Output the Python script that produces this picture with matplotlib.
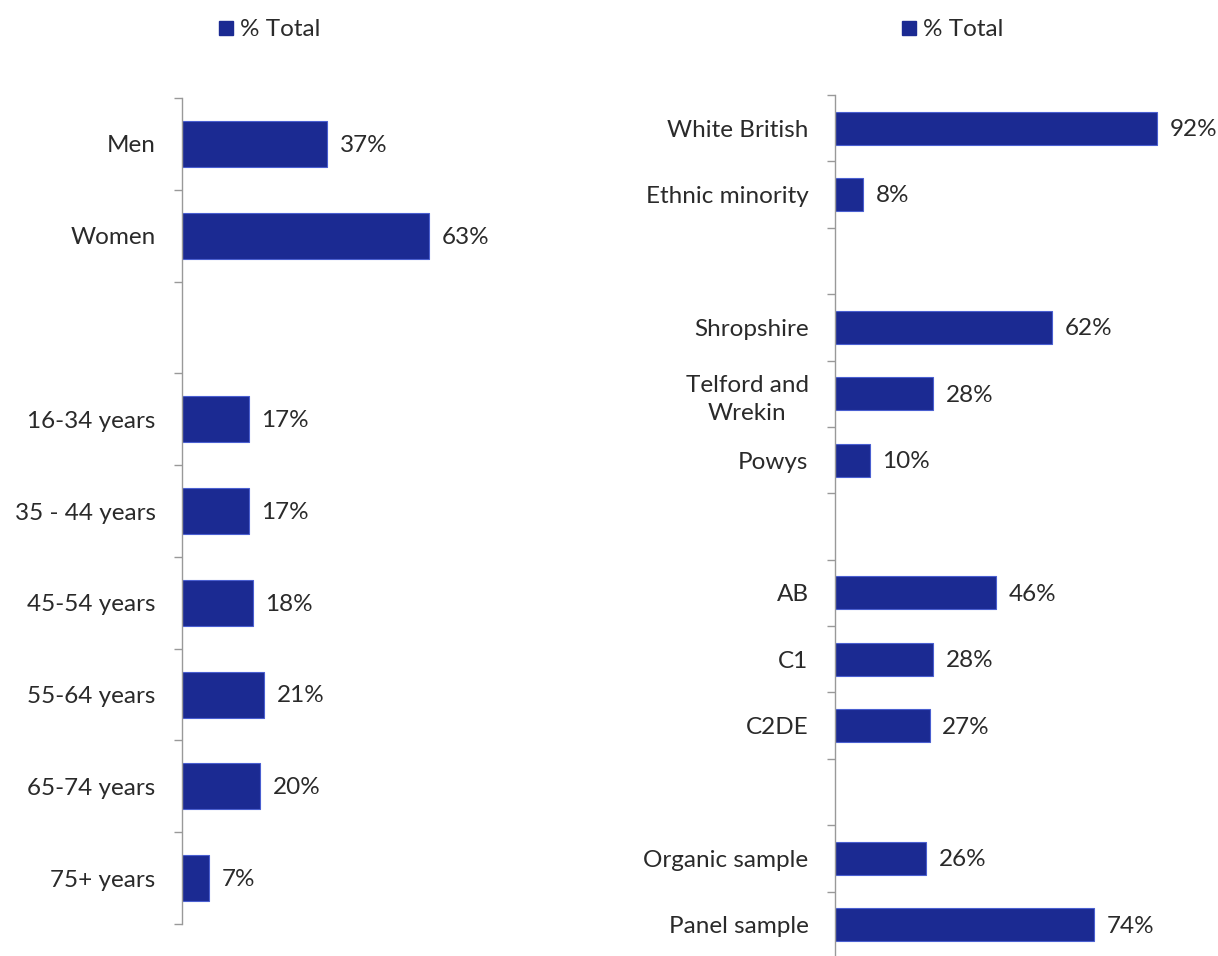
import matplotlib.pyplot as plt
import numpy as np

### データ（空欄はグループ間のすき間）
left_labels = ["Men", "Women", "", "16-34 years", "35 - 44 years", "45-54 years",
               "55-64 years", "65-74 years", "75+ years"]
left_values = [37, 63, None, 17, 17, 18, 21, 20, 7]

right_labels = ["White British", "Ethnic minority", "", "Shropshire", "Telford and\nWrekin",
                "Powys", "", "AB", "C1", "C2DE", "", "Organic sample", "Panel sample"]
right_values = [92, 8, None, 62, 28, 10, None, 46, 28, 27, None, 26, 74]

series_name = "% Total"
bar_color = "#1B2A92"
edge_color = "#4A5FD0"
text_color = "#2A2A2A"
fs = 17.5

plt.rcParams["font.family"] = ["Lato", "DejaVu Sans"]

fig = plt.figure(figsize=(12.18, 9.56), dpi=100)


def draw_panel(rect, labels, values):
    ax = fig.add_axes(rect)
    n = len(labels)
    pos = np.arange(n)
    for p, v in zip(pos, values):
        if v is None:
            continue
        ax.barh(p, v, height=0.5, color=bar_color, edgecolor=edge_color, linewidth=0.8)
        ax.annotate(f"{v}%", (v, p), xytext=(9, -1), textcoords="offset points",
                    va="center", ha="left", fontsize=fs, color=text_color)
    ax.set_xlim(0, 100)
    ax.set_ylim(n - 0.5, -0.5)
    ax.set_yticks(pos)
    ax.set_yticklabels(labels, fontsize=fs, color=text_color)
    for lab in ax.get_yticklabels():
        lab.set_multialignment("center")
        lab.set_linespacing(1.45)
    ax.set_yticks(np.arange(n + 1) - 0.5, minor=True)
    ax.tick_params(axis="y", which="major", length=0, pad=19)
    ax.tick_params(axis="y", which="minor", length=6, color="#999999", width=1)
    ax.set_xticks([])
    for s in ["top", "right", "bottom"]:
        ax.spines[s].set_visible(False)
    ax.spines["left"].set_color("#999999")
    ax.spines["left"].set_linewidth(1)
    return ax


ax1 = draw_panel([182 / 1218, 1 - 924 / 956, 392 / 1218, 826 / 956], left_labels, left_values)
ax2 = draw_panel([835 / 1218, 1 - 958 / 956, 350 / 1218, 863 / 956], right_labels, right_values)

### 凡例
for cx in [270, 953]:
    h = plt.Rectangle((0, 0), 1, 1, color=bar_color)
    fig.legend([h], [series_name], loc="center", bbox_to_anchor=(cx / 1218, 1 - 30 / 956),
               frameon=False, fontsize=fs, handlelength=0.55, handleheight=0.55,
               handletextpad=0.3, labelcolor=text_color)

plt.savefig("out.png", dpi=100)
